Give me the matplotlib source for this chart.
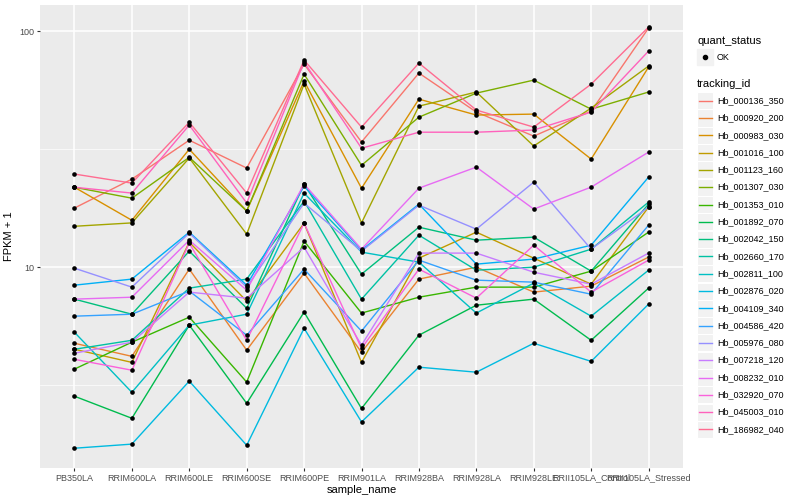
import numpy as np
import matplotlib
matplotlib.use("Agg")
import matplotlib.pyplot as plt
from matplotlib.patches import Rectangle
from matplotlib.lines import Line2D

plt.rcParams['font.family'] = ['Liberation Sans', 'DejaVu Sans']

samples = ['PB350LA', 'RRIM600LA', 'RRIM600LE', 'RRIM600SE', 'RRIM600PE', 'RRIM901LA',
           'RRIM928BA', 'RRIM928LA', 'RRIM928LE', 'RRII105LA_Control', 'RRII105LA_Stressed']

tracking_ids = ['Hb_000136_350', 'Hb_000920_200', 'Hb_000983_030', 'Hb_001016_100',
                'Hb_001123_160', 'Hb_001307_030', 'Hb_001353_010', 'Hb_001892_070',
                'Hb_002042_150', 'Hb_002660_170', 'Hb_002811_100', 'Hb_002876_020',
                'Hb_004109_340', 'Hb_004586_420', 'Hb_005976_080', 'Hb_007218_120',
                'Hb_008232_010', 'Hb_032920_070', 'Hb_045003_010', 'Hb_186982_040']

# FPKM + 1 per sample
hb_000136_350 = [17.8, 23.6, 34.5, 26.3, 72.5, 33.9, 66.4, 45.4, 35.9, 45.8, 103.0]
hb_000920_200 = [4.76, 4.19, 9.81, 4.45, 9.43, 4.36, 8.90, 10.0, 7.84, 8.31, 11.03]
hb_000983_030 = [21.8, 15.8, 31.6, 17.3, 61.4, 21.6, 51.5, 44.1, 44.5, 28.7, 70.4]
hb_001016_100 = [4.49, 3.95, 12.76, 7.18, 15.36, 3.95, 10.92, 14.07, 10.92, 8.47, 17.96]
hb_001123_160 = [14.9, 15.4, 29.0, 13.8, 59.6, 15.4, 48.1, 55.2, 32.6, 47.2, 71.1]
hb_001307_030 = [21.8, 19.6, 29.2, 17.3, 65.7, 27.0, 43.2, 54.6, 62.0, 46.7, 55.2]
hb_001353_010 = [3.70, 4.81, 6.14, 3.26, 12.89, 6.39, 7.46, 8.23, 8.23, 9.62, 14.07]
hb_001892_070 = [2.84, 2.29, 5.68, 2.65, 6.45, 2.52, 5.15, 6.90, 7.32, 4.90, 8.15]
hb_002042_150 = [7.32, 6.32, 11.69, 6.70, 22.48, 9.34, 14.77, 13.01, 13.40, 9.62, 18.49]
hb_002660_170 = [4.49, 4.90, 8.15, 8.90, 19.05, 7.32, 13.66, 9.71, 10.0, 11.92, 18.86]
hb_002811_100 = [5.30, 2.95, 5.68, 6.32, 20.59, 11.58, 10.50, 6.39, 8.56, 6.20, 9.71]
hb_002876_020 = [1.71, 1.78, 3.29, 1.76, 5.51, 2.21, 3.77, 3.59, 4.76, 3.99, 6.97]
hb_004109_340 = [8.39, 8.90, 14.07, 8.39, 22.04, 11.80, 18.49, 10.30, 10.82, 12.39, 24.07]
hb_004586_420 = [6.20, 6.32, 7.92, 5.15, 9.81, 5.36, 10.71, 8.81, 8.64, 7.68, 15.06]
hb_005976_080 = [9.90, 8.23, 13.94, 8.23, 18.68, 11.69, 18.31, 14.49, 22.92, 11.92, 17.96]
hb_007218_120 = [4.32, 4.81, 7.84, 7.39, 12.15, 4.67, 11.47, 11.47, 9.52, 8.47, 11.47]
hb_008232_010 = [7.32, 7.46, 13.01, 7.99, 22.48, 11.92, 21.61, 26.54, 17.62, 21.83, 30.72]
hb_032920_070 = [4.07, 3.66, 12.64, 4.90, 15.36, 4.53, 9.81, 7.39, 12.39, 7.84, 10.71]
hb_045003_010 = [21.8, 20.6, 40.0, 18.7, 73.9, 31.9, 37.3, 37.3, 38.1, 45.4, 82.3]
hb_186982_040 = [24.8, 22.7, 41.1, 20.6, 75.4, 39.2, 73.2, 46.3, 39.2, 59.6, 104.0]

series = [hb_000136_350, hb_000920_200, hb_000983_030, hb_001016_100, hb_001123_160,
          hb_001307_030, hb_001353_010, hb_001892_070, hb_002042_150, hb_002660_170,
          hb_002811_100, hb_002876_020, hb_004109_340, hb_004586_420, hb_005976_080,
          hb_007218_120, hb_008232_010, hb_032920_070, hb_045003_010, hb_186982_040]

# ggplot2 default hue palette for 20 levels
colors = ["#F8766D", "#EA8331", "#D89000", "#C09B00", "#A3A500", "#7CAE00", "#39B600",
          "#00BB4E", "#00BF7D", "#00C1A3", "#00BFC4", "#00BAE0", "#00B0F6", "#35A2FF",
          "#9590FF", "#C77CFF", "#E76BF3", "#FA62DB", "#FF62BC", "#FF6C91"]

fig = plt.figure(figsize=(8, 5), dpi=100)
ax = fig.add_axes([40 / 800, 1 - 468 / 500, 643 / 800, 463 / 500])
ax.set_facecolor('#EBEBEB')
x = np.arange(len(samples))

for vals, col in zip(series, colors):
    ax.plot(x, vals, color=col, lw=1.0, zorder=3)
for vals in series:
    ax.scatter(x, vals, s=11, color='black', zorder=4, linewidths=0)

ax.set_yscale('log')
ax.set_ylim(1.41, 129)
ax.set_xlim(-0.6, len(samples) - 0.4)
ax.set_yticks([10, 100])
ax.set_yticklabels(['10', '100'])
ax.set_yticks([10 ** 0.5, 10 ** 1.5], minor=True)
ax.set_xticks(x)
ax.set_xticklabels(samples)
ax.grid(which='major', color='white', lw=1.1, zorder=0)
ax.grid(which='minor', axis='y', color='white', lw=0.5, zorder=0)
ax.set_axisbelow(True)
for s in ax.spines.values():
    s.set_visible(False)
ax.tick_params(which='major', length=2.5, width=0.8, color='#333333',
               labelsize=6.5, labelcolor='#4D4D4D', pad=1.5)
ax.tick_params(which='minor', length=0)
ax.set_xlabel('sample_name', fontsize=8, labelpad=2)
ax.set_ylabel('FPKM + 1', fontsize=8, labelpad=4)

# legends drawn in the ggplot layout
fig.text(697 / 800, 1 - 41 / 500, 'quant_status', fontsize=8, va='center')
fig.patches.append(Rectangle((697 / 800, 1 - 65 / 500), 16 / 800, 16 / 500,
                             transform=fig.transFigure, color='#F2F2F2', figure=fig))
fig.lines.append(Line2D([705 / 800], [1 - 57 / 500], marker='o', ms=3, color='black',
                        transform=fig.transFigure, figure=fig))
fig.text(717 / 800, 1 - 57 / 500, 'OK', fontsize=6.5, va='center')

fig.text(697 / 800, 1 - 84 / 500, 'tracking_id', fontsize=8, va='center')
for i, (tid, col) in enumerate(zip(tracking_ids, colors)):
    yc = 100.7 + i * 17.3
    fig.patches.append(Rectangle((697 / 800, 1 - (yc + 8.5) / 500), 16 / 800, 17 / 500,
                                 transform=fig.transFigure, facecolor='#F2F2F2',
                                 edgecolor='white', lw=0.8, figure=fig))
    fig.lines.append(Line2D([698.5 / 800, 711.5 / 800], [1 - yc / 500, 1 - yc / 500],
                            color=col, lw=1.0, transform=fig.transFigure, figure=fig))
    fig.text(717 / 800, 1 - yc / 500, tid, fontsize=6.5, va='center')

fig.savefig('out.png', dpi=100)
